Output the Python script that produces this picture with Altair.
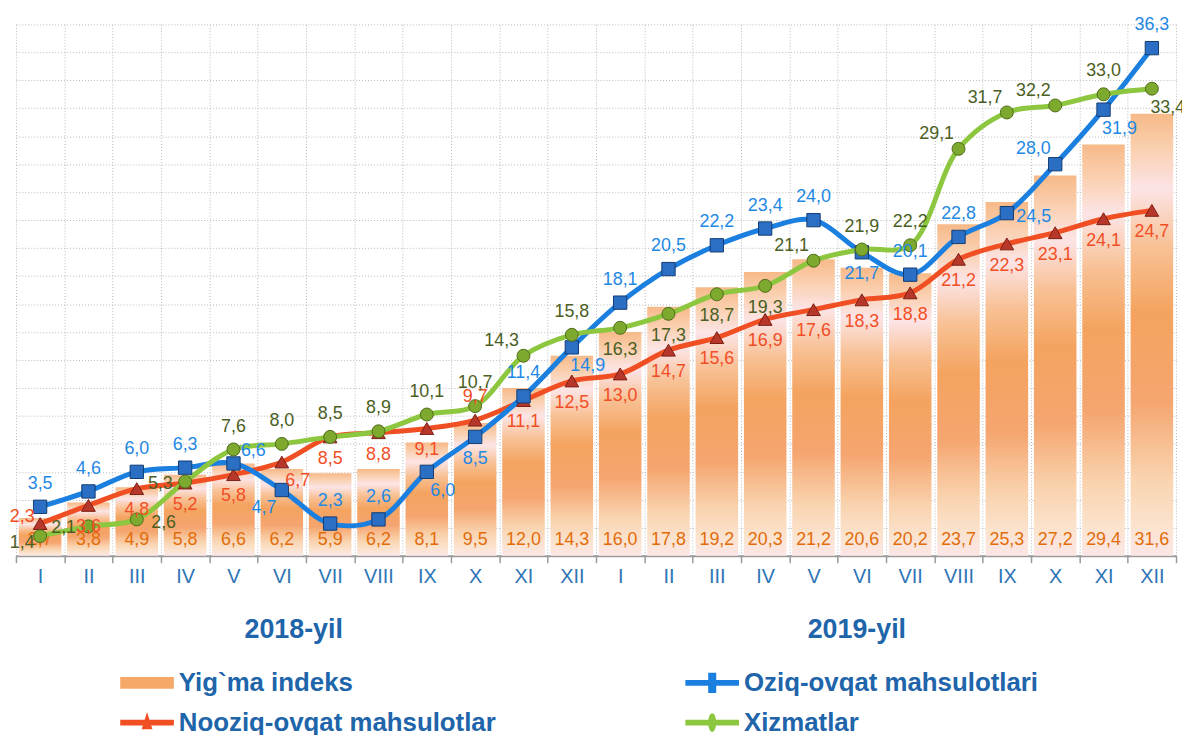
import altair as alt
import pandas as pd

months = ["I", "II", "III", "IV", "V", "VI", "VII", "VIII", "IX", "X", "XI", "XII"]
years = ["2018", "2019"]
year_titles = ["2018-yil", "2019-yil"]

yigma = [2.7, 3.8, 4.9, 5.8, 6.6, 6.2, 5.9, 6.2, 8.1, 9.5, 12.0, 14.3,
         16.0, 17.8, 19.2, 20.3, 21.2, 20.6, 20.2, 23.7, 25.3, 27.2, 29.4, 31.6]
oziq = [3.5, 4.6, 6.0, 6.3, 6.6, 4.7, 2.3, 2.6, 6.0, 8.5, 11.4, 14.9,
        18.1, 20.5, 22.2, 23.4, 24.0, 21.7, 20.1, 22.8, 24.5, 28.0, 31.9, 36.3]
nooziq = [2.3, 3.6, 4.8, 5.2, 5.8, 6.7, 8.5, 8.8, 9.1, 9.7, 11.1, 12.5,
          13.0, 14.7, 15.6, 16.9, 17.6, 18.3, 18.8, 21.2, 22.3, 23.1, 24.1, 24.7]
xizmat = [1.4, 2.1, 2.6, 5.3, 7.6, 8.0, 8.5, 8.9, 10.1, 10.7, 14.3, 15.8,
          16.3, 17.3, 18.7, 19.3, 21.1, 21.9, 22.2, 29.1, 31.7, 32.2, 33.0, 33.4]

# legend order (legend columns fill top-to-bottom)
series_names = ["Yig`ma indeks", "Nooziq-ovqat mahsulotlar",
                "Oziq-ovqat mahsulotlari", "Xizmatlar"]

# label placement (a=above, b=below, l=left, r=right, combos)
oziq_pos = ["a", "a", "a", "a", "ar", "bl", "a", "a", "br", "b", "a", "br",
            "a", "a", "a", "a", "a", "b", "a", "a", "r", "al", "br", "a"]
nooziq_pos = ["lu", "b", "b", "b", "b", "br", "b", "b", "b", "a", "b", "b",
              "b", "b", "b", "b", "b", "b", "b", "b", "b", "b", "b", "b"]
xizmat_pos = ["ld", "l", "r", "l", "a", "a", "a", "a", "a", "a", "al", "a",
              "b", "b", "b", "b", "al", "a", "a", "al", "al", "al", "a", "br"]

OFFS = {"a": (0, -23), "b": (0, 22), "l": (-25, 2), "r": (27, 4),
        "ar": (20, -13), "al": (-22, -15), "br": (16, 19), "bl": (-18, 18),
        "lu": (-18, -7), "ld": (-18, 7)}

FONT = "Liberation Sans, Arial, sans-serif"
C_BLUE, C_RED, C_GREEN = "#1B7FE0", "#F04E23", "#8DC63F"
L_BLUE, L_RED, L_GREEN, L_BAR = "#1E88E5", "#F24E26", "#4B5E23", "#E36C0A"
TXT_BLUE = "#2064AA"

keys = [f"{y}-{m}" for y in years for m in months]


def lab(v):
    return f"{v:.1f}".replace(".", ",")


df = pd.DataFrame({
    "key": keys,
    "yigma": yigma, "oziq": oziq, "nooziq": nooziq, "xizmat": xizmat,
    "l_yigma": [lab(v) for v in yigma], "l_oziq": [lab(v) for v in oziq],
    "l_nooziq": [lab(v) for v in nooziq], "l_xizmat": [lab(v) for v in xizmat],
    "p_oziq": oziq_pos, "p_nooziq": nooziq_pos, "p_xizmat": xizmat_pos,
})

grid_col = "#b8b8b8"
x_enc = alt.X("key:N", sort=keys,
              scale=alt.Scale(paddingInner=0, paddingOuter=0),
              axis=alt.Axis(title=None, labelExpr="split(datum.value, '-')[1]",
                            tickBand="extent", grid=True, gridDash=[1, 2],
                            gridColor=grid_col, domainColor="#9a9a9a", domainWidth=2,
                            tickColor="#9a9a9a", tickSize=7, tickWidth=1.5,
                            labelFontSize=20, labelColor="#2E75B6", labelFont=FONT,
                            labelPadding=4, labelAngle=0))
y_scale = alt.Scale(domain=[0, 38], nice=False, zero=True)
y_axis = alt.Axis(title=None, values=list(range(0, 39, 2)), labels=False, ticks=False,
                  domain=False, grid=True, gridDash=[1, 2], gridColor=grid_col)


def y_enc(field):
    return alt.Y(f"{field}:Q", scale=y_scale, axis=y_axis)


base = alt.Chart(df)

grad = alt.Gradient(
    gradient="linear", x1=0, x2=0, y1=0, y2=1,
    stops=[alt.GradientStop(color="#F7B988", offset=0),
           alt.GradientStop(color="#FAD0B0", offset=0.08),
           alt.GradientStop(color="#FCE4E6", offset=0.17),
           alt.GradientStop(color="#F8C195", offset=0.3),
           alt.GradientStop(color="#F4A35F", offset=0.45),
           alt.GradientStop(color="#F5A56F", offset=0.65),
           alt.GradientStop(color="#F9D2AD", offset=0.82),
           alt.GradientStop(color="#FBE3CE", offset=0.93),
           alt.GradientStop(color="#FCE6E6", offset=1)])

bars = base.mark_bar(color=grad, width=alt.RelativeBandSize(0.88)).encode(
    x=x_enc, y=y_enc("yigma"))

bar_labels = base.mark_text(font=FONT, fontSize=18, color=L_BAR, dy=-16,
                            baseline="middle").encode(
    x=x_enc, y=alt.YDatum(0, scale=y_scale, axis=y_axis), text="l_yigma:N")

series = [
    ("nooziq", C_RED, L_RED, "triangle-up", "#B7372A", "#7A1E14", 190),
    ("oziq", C_BLUE, L_BLUE, "square", "#2B6FC4", "#123C73", 180),
    ("xizmat", C_GREEN, L_GREEN, "circle", "#7DAA2E", "#4F6B1A", 170),
]

lines, points, labels = [], [], []
for f, lc, tc, shp, fill, stroke, sz in series:
    lines.append(base.mark_line(color=lc, strokeWidth=5, interpolate="catmull-rom").encode(
        x=x_enc, y=y_enc(f)))
    points.append(base.mark_point(shape=shp, filled=True, size=sz, fill=fill, stroke=stroke,
                                  strokeWidth=1, opacity=1).encode(x=x_enc, y=y_enc(f)))
    for code, (dx, dy) in OFFS.items():
        labels.append(base.transform_filter(alt.datum[f"p_{f}"] == code).mark_text(
            font=FONT, fontSize=18, color=tc, dx=dx, dy=dy, baseline="middle").encode(
            x=x_enc, y=y_enc(f), text=f"l_{f}:N"))

year_df = pd.DataFrame({"key": [f"{y}-VI" for y in years], "t": year_titles})
year_layers = []
for i, ddx in enumerate([12, -5]):
    year_layers.append(alt.Chart(year_df.iloc[[i]]).mark_text(
        font=FONT, fontSize=27, fontWeight="bold", color=TXT_BLUE, dx=ddx, dy=75,
        baseline="middle").encode(x=x_enc, y=alt.YDatum(0, scale=y_scale, axis=y_axis),
                                  text="t:N"))

paths = [
    "M-1,-0.22L1,-0.22L1,0.22L-1,0.22Z",
    "M-1,-0.11L1,-0.11L1,0.11L-1,0.11Z M0,-0.4L0.2,0.25L-0.2,0.25Z",
    "M-1,-0.11L1,-0.11L1,0.11L-1,0.11Z M-0.15,-0.38L0.15,-0.38L0.15,0.38L-0.15,0.38Z",
    "M-1,-0.11L1,-0.11L1,0.11L-1,0.11Z M-0.15,0A0.15,0.35 0 1,1 0.15,0A0.15,0.35 0 1,1 -0.15,0Z",
]
leg = alt.Legend(title=None, orient="none", legendX=105, legendY=636, columns=2,
                 columnPadding=190, rowPadding=-11, symbolSize=2916, symbolStrokeWidth=0,
                 symbolOpacity=1, labelFont=FONT, labelFontSize=26, labelFontWeight="bold",
                 labelColor=TXT_BLUE, labelOffset=5, labelLimit=0, padding=0)
legend_layer = alt.Chart(pd.DataFrame({"s": series_names})).transform_filter("false").mark_point(
    filled=True, opacity=1).encode(
    color=alt.Color("s:N", sort=series_names,
                    scale=alt.Scale(domain=series_names,
                                    range=["#F6A869", C_RED, C_BLUE, C_GREEN]),
                    legend=leg),
    shape=alt.Shape("s:N", sort=series_names,
                    scale=alt.Scale(domain=series_names, range=paths), legend=leg))

chart = alt.layer(bars, bar_labels, *lines, *points, *labels, *year_layers, legend_layer).properties(
    width=1168, height=535,
    autosize=alt.AutoSizeParams(type="none"),
    padding={"left": 8, "top": 14, "right": 6, "bottom": 178},
).configure_view(strokeWidth=0)

chart.save("out.html", embed_options={"renderer": "svg", "actions": False})
